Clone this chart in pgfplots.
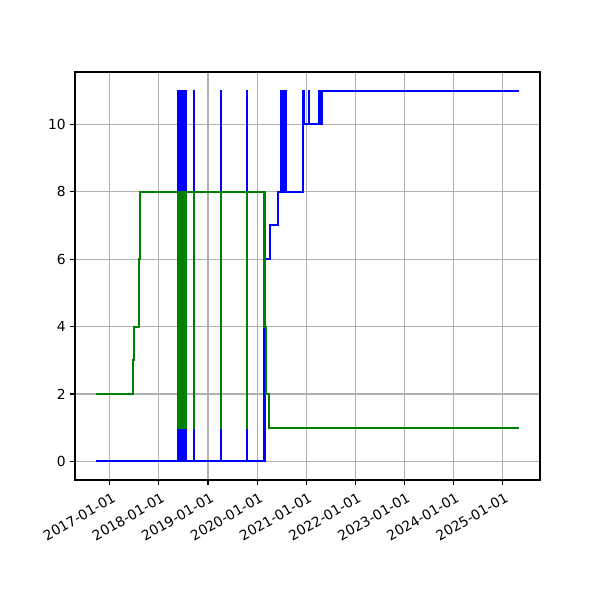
\documentclass[border=0pt]{standalone}
\usepackage{fontspec}
\setmainfont{DejaVu Sans}
\usepackage{pgfplots}
\pgfplotsset{compat=1.18}
\definecolor{mplblue}{RGB}{0,0,255}
\definecolor{mplgreen}{RGB}{0,128,0}
\definecolor{gridgray}{RGB}{176,176,176}

\begin{document}
\fontsize{10}{12}\selectfont
\begin{tikzpicture}
\useasboundingbox (-0.75in,-1.2in) rectangle (5.25in,4.8in);
\begin{axis}[
    at={(0,0)}, anchor=south west,
    width=4.65in, height=4.08in, scale only axis,
    xmin=2016.29, xmax=2025.765,
    ymin=-0.55, ymax=11.55,
    xtick={2017,2018,2019,2020,2021,2022,2023,2024,2025},
    xticklabels={2017-01-01,2018-01-01,2019-01-01,2020-01-01,2021-01-01,2022-01-01,2023-01-01,2024-01-01,2025-01-01},
    ytick={0,2,4,6,8,10},
    tick pos=left,
    tick align=outside,
    major tick length=3.5pt,
    tick style={black, line width=0.8pt},
    axis line style={black, line width=0.8pt},
    grid=major,
    major grid style={gridgray, line width=0.8pt},
    /pgf/number format/assume math mode=true,
    ticklabel style={font=\fontsize{10}{12}\selectfont},
    xticklabel style={rotate=30, anchor=north east, inner sep=2pt, xshift=0.5pt, yshift=-3pt},
    yticklabel style={inner sep=3pt},
    const plot,
]
% blue series
\addplot[mplblue, line width=1.5pt, const plot] coordinates {
    (2016.708,0)
    (2018.397,11) (2018.401,0) (2018.410,11) (2018.414,0)
    (2018.423,11) (2018.427,0) (2018.436,11) (2018.440,0)
    (2018.449,11) (2018.453,0) (2018.462,11) (2018.466,0)
    (2018.475,11) (2018.479,0) (2018.488,11) (2018.492,0)
    (2018.501,11) (2018.505,0) (2018.514,11) (2018.518,0)
    (2018.527,11) (2018.531,0) (2018.540,11) (2018.544,0)
    (2018.553,11) (2018.557,0)
    (2018.718,11) (2018.720,0)
    (2019.257,11) (2019.259,0)
    (2019.786,11) (2019.788,0)
    (2020.152,6)
    (2020.254,7)
    (2020.420,8)
    (2020.486,11) (2020.490,8) (2020.499,11) (2020.503,8)
    (2020.512,11) (2020.516,8) (2020.524,11) (2020.528,8)
    (2020.537,11) (2020.541,8) (2020.549,11) (2020.553,8)
    (2020.562,11) (2020.566,8) (2020.574,11) (2020.578,8)
    (2020.587,11) (2020.591,8)
    (2020.929,11) (2020.949,10)
    (2021.057,11) (2021.061,10)
    (2021.271,11) (2021.275,10) (2021.290,11) (2021.294,10)
    (2021.308,11) (2021.312,10)
    (2021.326,11)
    (2025.339,11)
};
% green series
\addplot[mplgreen, line width=1.5pt, const plot] coordinates {
    (2016.708,2) (2017.467,3) (2017.487,4) (2017.589,5) (2017.603,6) (2017.623,8)
    (2018.397,1) (2018.401,8) (2018.410,1) (2018.414,8)
    (2018.423,1) (2018.427,8) (2018.436,1) (2018.440,8)
    (2018.449,1) (2018.453,8) (2018.462,1) (2018.466,8)
    (2018.475,1) (2018.479,8) (2018.488,1) (2018.492,8)
    (2018.501,1) (2018.505,8) (2018.514,1) (2018.518,8)
    (2018.527,1) (2018.531,8) (2018.540,1) (2018.544,8)
    (2018.553,1) (2018.557,8)
    (2018.718,1) (2018.720,8)
    (2019.257,1) (2019.259,8)
    (2019.786,1) (2019.788,8)
    (2020.152,4) (2020.176,2) (2020.241,1)
    (2025.339,1)
};
\end{axis}
\end{tikzpicture}
\end{document}
